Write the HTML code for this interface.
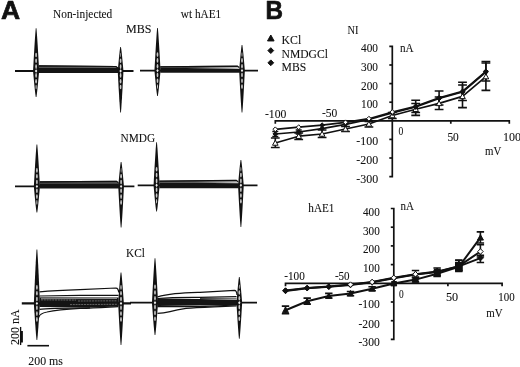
<!DOCTYPE html>
<html><head><meta charset="utf-8"><title>Figure</title>
<style>html,body{margin:0;padding:0;background:#fff}svg{display:block}</style></head>
<body><svg width="520" height="367" viewBox="0 0 520 367">
<rect width="520" height="367" fill="#fff"/>
<defs><linearGradient id="g" x1="0" x2="1" y1="0" y2="0"><stop offset="0" stop-color="#333"/><stop offset="0.45" stop-color="#555"/><stop offset="1" stop-color="#ccc"/></linearGradient>
<linearGradient id="g2" x1="0" x2="1" y1="0" y2="0"><stop offset="0" stop-color="#333"/><stop offset="1" stop-color="#666"/></linearGradient></defs>
<line x1="15" y1="71" x2="133.5" y2="71" stroke="#111" stroke-width="1.8"/>
<path d="M38.9,65.3 L116.39999999999999,66 L118.39999999999999,68 L38.9,67.8Z" fill="url(#g2)"/>
<path d="M38.9,65.8 L115.89999999999999,66.5 L117.89999999999999,68" stroke="#111" stroke-width="1.2" fill="none"/>
<path d="M38.9,67.8 L118.39999999999999,68 L118.39999999999999,72.9 L38.9,72.9Z" fill="#141414"/>
<path d="M36.45,28.30 L36.91,33.64 L37.28,38.97 L37.62,44.31 L37.95,49.65 L38.26,54.99 L38.56,60.33 L38.86,65.66 L39.15,71.00 L38.86,74.25 L38.56,77.50 L38.26,80.75 L37.95,84.00 L37.62,87.25 L37.28,90.50 L36.91,93.75 L36.45,97.00 L35.75,97.00 L35.29,93.75 L34.92,90.50 L34.58,87.25 L34.25,84.00 L33.94,80.75 L33.64,77.50 L33.34,74.25 L33.05,71.00 L33.34,65.66 L33.64,60.33 L33.94,54.99 L34.25,49.65 L34.58,44.31 L34.92,38.97 L35.29,33.64 L35.75,28.30Z" fill="#111"/>
<ellipse cx="36.1" cy="66.6" rx="0.85" ry="2.3" fill="#fff" opacity="0.78"/>
<ellipse cx="36.1" cy="60.8" rx="0.85" ry="2.3" fill="#fff" opacity="0.78"/>
<ellipse cx="36.1" cy="55.0" rx="0.85" ry="2.3" fill="#fff" opacity="0.78"/>
<ellipse cx="36.1" cy="75.4" rx="0.85" ry="2.3" fill="#fff" opacity="0.78"/>
<ellipse cx="36.1" cy="81.2" rx="0.85" ry="2.3" fill="#fff" opacity="0.78"/>
<ellipse cx="36.1" cy="87.0" rx="0.55" ry="2.3" fill="#fff" opacity="0.78"/>
<path d="M36.1,69.3 L37.300000000000004,71 L36.1,72.7 L34.9,71Z" fill="#fff" opacity="0.95"/>
<path d="M120.95,47.00 L121.38,50.00 L121.72,53.00 L122.04,56.00 L122.34,59.00 L122.63,62.00 L122.91,65.00 L123.18,68.00 L123.45,71.00 L123.18,76.19 L122.91,81.38 L122.63,86.56 L122.34,91.75 L122.04,96.94 L121.72,102.12 L121.38,107.31 L120.95,112.50 L120.25,112.50 L119.82,107.31 L119.48,102.12 L119.16,96.94 L118.86,91.75 L118.57,86.56 L118.29,81.38 L118.02,76.19 L117.75,71.00 L118.02,68.00 L118.29,65.00 L118.57,62.00 L118.86,59.00 L119.16,56.00 L119.48,53.00 L119.82,50.00 L120.25,47.00Z" fill="#111"/>
<ellipse cx="120.6" cy="66.6" rx="0.85" ry="2.3" fill="#fff" opacity="0.78"/>
<ellipse cx="120.6" cy="60.8" rx="0.85" ry="2.3" fill="#fff" opacity="0.78"/>
<ellipse cx="120.6" cy="55.0" rx="0.33" ry="2.3" fill="#fff" opacity="0.78"/>
<ellipse cx="120.6" cy="75.4" rx="0.85" ry="2.3" fill="#fff" opacity="0.78"/>
<ellipse cx="120.6" cy="81.2" rx="0.85" ry="2.3" fill="#fff" opacity="0.78"/>
<ellipse cx="120.6" cy="87.0" rx="0.85" ry="2.3" fill="#fff" opacity="0.78"/>
<path d="M120.6,69.3 L121.8,71 L120.6,72.7 L119.39999999999999,71Z" fill="#fff" opacity="0.95"/>
<line x1="140" y1="70.6" x2="258" y2="70.6" stroke="#111" stroke-width="1.8"/>
<path d="M160.3,66.3 L237.8,65.6 L239.8,69 L160.3,67.5Z" fill="url(#g)"/>
<path d="M160.3,66.8 L237.3,66.1 L239.3,67.6" stroke="#111" stroke-width="1.2" fill="none"/>
<path d="M160.3,67.5 L239.8,69 L239.8,72.8 L160.3,72.8Z" fill="#141414"/>
<path d="M157.85,28.00 L158.31,33.33 L158.68,38.65 L159.02,43.97 L159.35,49.30 L159.66,54.62 L159.96,59.95 L160.26,65.27 L160.55,70.60 L160.26,73.77 L159.96,76.95 L159.66,80.12 L159.35,83.30 L159.02,86.47 L158.68,89.65 L158.31,92.83 L157.85,96.00 L157.15,96.00 L156.69,92.83 L156.32,89.65 L155.98,86.47 L155.65,83.30 L155.34,80.12 L155.04,76.95 L154.74,73.77 L154.45,70.60 L154.74,65.27 L155.04,59.95 L155.34,54.62 L155.65,49.30 L155.98,43.97 L156.32,38.65 L156.69,33.33 L157.15,28.00Z" fill="#111"/>
<ellipse cx="157.5" cy="66.2" rx="0.85" ry="2.3" fill="#fff" opacity="0.78"/>
<ellipse cx="157.5" cy="60.4" rx="0.85" ry="2.3" fill="#fff" opacity="0.78"/>
<ellipse cx="157.5" cy="54.6" rx="0.85" ry="2.3" fill="#fff" opacity="0.78"/>
<ellipse cx="157.5" cy="75.0" rx="0.85" ry="2.3" fill="#fff" opacity="0.78"/>
<ellipse cx="157.5" cy="80.8" rx="0.85" ry="2.3" fill="#fff" opacity="0.78"/>
<ellipse cx="157.5" cy="86.6" rx="0.51" ry="2.3" fill="#fff" opacity="0.78"/>
<path d="M157.5,68.89999999999999 L158.7,70.6 L157.5,72.3 L156.3,70.6Z" fill="#fff" opacity="0.95"/>
<path d="M242.35,45.00 L242.78,48.20 L243.12,51.40 L243.44,54.60 L243.74,57.80 L244.03,61.00 L244.31,64.20 L244.58,67.40 L244.85,70.60 L244.58,75.84 L244.31,81.07 L244.03,86.31 L243.74,91.55 L243.44,96.79 L243.12,102.03 L242.78,107.26 L242.35,112.50 L241.65,112.50 L241.22,107.26 L240.88,102.03 L240.56,96.79 L240.26,91.55 L239.97,86.31 L239.69,81.07 L239.42,75.84 L239.15,70.60 L239.42,67.40 L239.69,64.20 L239.97,61.00 L240.26,57.80 L240.56,54.60 L240.88,51.40 L241.22,48.20 L241.65,45.00Z" fill="#111"/>
<ellipse cx="242" cy="66.2" rx="0.85" ry="2.3" fill="#fff" opacity="0.78"/>
<ellipse cx="242" cy="60.4" rx="0.85" ry="2.3" fill="#fff" opacity="0.78"/>
<ellipse cx="242" cy="54.6" rx="0.44" ry="2.3" fill="#fff" opacity="0.78"/>
<ellipse cx="242" cy="75.0" rx="0.85" ry="2.3" fill="#fff" opacity="0.78"/>
<ellipse cx="242" cy="80.8" rx="0.85" ry="2.3" fill="#fff" opacity="0.78"/>
<ellipse cx="242" cy="86.6" rx="0.85" ry="2.3" fill="#fff" opacity="0.78"/>
<path d="M242,68.89999999999999 L243.2,70.6 L242,72.3 L240.8,70.6Z" fill="#fff" opacity="0.95"/>
<line x1="15" y1="186.4" x2="134.4" y2="186.4" stroke="#111" stroke-width="1.8"/>
<path d="M39.699999999999996,181.3 L116.89999999999999,180.8 L118.89999999999999,183.3 L39.699999999999996,183.3Z" fill="url(#g2)"/>
<path d="M39.699999999999996,181.8 L116.39999999999999,181.3 L118.39999999999999,182.8" stroke="#111" stroke-width="1.2" fill="none"/>
<path d="M39.699999999999996,183.3 L118.89999999999999,183.3 L118.89999999999999,188.4 L39.699999999999996,188.4Z" fill="#141414"/>
<path d="M37.25,144.50 L37.71,149.74 L38.08,154.97 L38.42,160.21 L38.75,165.45 L39.06,170.69 L39.36,175.93 L39.66,181.16 L39.95,186.40 L39.66,189.66 L39.36,192.93 L39.06,196.19 L38.75,199.45 L38.42,202.71 L38.08,205.97 L37.71,209.24 L37.25,212.50 L36.55,212.50 L36.09,209.24 L35.72,205.97 L35.38,202.71 L35.05,199.45 L34.74,196.19 L34.44,192.93 L34.14,189.66 L33.85,186.40 L34.14,181.16 L34.44,175.93 L34.74,170.69 L35.05,165.45 L35.38,160.21 L35.72,154.97 L36.09,149.74 L36.55,144.50Z" fill="#111"/>
<ellipse cx="36.9" cy="182.0" rx="0.85" ry="2.3" fill="#fff" opacity="0.78"/>
<ellipse cx="36.9" cy="176.2" rx="0.85" ry="2.3" fill="#fff" opacity="0.78"/>
<ellipse cx="36.9" cy="170.4" rx="0.85" ry="2.3" fill="#fff" opacity="0.78"/>
<ellipse cx="36.9" cy="190.8" rx="0.85" ry="2.3" fill="#fff" opacity="0.78"/>
<ellipse cx="36.9" cy="196.6" rx="0.85" ry="2.3" fill="#fff" opacity="0.78"/>
<ellipse cx="36.9" cy="202.4" rx="0.55" ry="2.3" fill="#fff" opacity="0.78"/>
<path d="M36.9,184.70000000000002 L38.1,186.4 L36.9,188.1 L35.699999999999996,186.4Z" fill="#fff" opacity="0.95"/>
<path d="M121.45,162.00 L121.88,165.05 L122.22,168.10 L122.54,171.15 L122.84,174.20 L123.13,177.25 L123.41,180.30 L123.68,183.35 L123.95,186.40 L123.68,191.54 L123.41,196.68 L123.13,201.81 L122.84,206.95 L122.54,212.09 L122.22,217.22 L121.88,222.36 L121.45,227.50 L120.75,227.50 L120.32,222.36 L119.98,217.22 L119.66,212.09 L119.36,206.95 L119.07,201.81 L118.79,196.68 L118.52,191.54 L118.25,186.40 L118.52,183.35 L118.79,180.30 L119.07,177.25 L119.36,174.20 L119.66,171.15 L119.98,168.10 L120.32,165.05 L120.75,162.00Z" fill="#111"/>
<ellipse cx="121.1" cy="182.0" rx="0.85" ry="2.3" fill="#fff" opacity="0.78"/>
<ellipse cx="121.1" cy="176.2" rx="0.85" ry="2.3" fill="#fff" opacity="0.78"/>
<ellipse cx="121.1" cy="170.4" rx="0.36" ry="2.3" fill="#fff" opacity="0.78"/>
<ellipse cx="121.1" cy="190.8" rx="0.85" ry="2.3" fill="#fff" opacity="0.78"/>
<ellipse cx="121.1" cy="196.6" rx="0.85" ry="2.3" fill="#fff" opacity="0.78"/>
<ellipse cx="121.1" cy="202.4" rx="0.85" ry="2.3" fill="#fff" opacity="0.78"/>
<path d="M121.1,184.70000000000002 L122.3,186.4 L121.1,188.1 L119.89999999999999,186.4Z" fill="#fff" opacity="0.95"/>
<line x1="137.7" y1="185.3" x2="257.5" y2="185.3" stroke="#111" stroke-width="1.8"/>
<path d="M159.4,180.7 L236.70000000000002,179.8 L238.70000000000002,183.2 L159.4,182.5Z" fill="url(#g)"/>
<path d="M159.4,181.2 L236.20000000000002,180.3 L238.20000000000002,181.8" stroke="#111" stroke-width="1.2" fill="none"/>
<path d="M159.4,182.5 L238.70000000000002,183.2 L238.70000000000002,188.2 L159.4,188.2Z" fill="#141414"/>
<path d="M156.95,142.30 L157.41,147.68 L157.78,153.05 L158.12,158.43 L158.45,163.80 L158.76,169.18 L159.06,174.55 L159.36,179.93 L159.65,185.30 L159.36,188.58 L159.06,191.85 L158.76,195.12 L158.45,198.40 L158.12,201.68 L157.78,204.95 L157.41,208.22 L156.95,211.50 L156.25,211.50 L155.79,208.22 L155.42,204.95 L155.08,201.68 L154.75,198.40 L154.44,195.12 L154.14,191.85 L153.84,188.58 L153.55,185.30 L153.84,179.93 L154.14,174.55 L154.44,169.18 L154.75,163.80 L155.08,158.43 L155.42,153.05 L155.79,147.68 L156.25,142.30Z" fill="#111"/>
<ellipse cx="156.6" cy="180.9" rx="0.85" ry="2.3" fill="#fff" opacity="0.78"/>
<ellipse cx="156.6" cy="175.1" rx="0.85" ry="2.3" fill="#fff" opacity="0.78"/>
<ellipse cx="156.6" cy="169.3" rx="0.85" ry="2.3" fill="#fff" opacity="0.78"/>
<ellipse cx="156.6" cy="189.7" rx="0.85" ry="2.3" fill="#fff" opacity="0.78"/>
<ellipse cx="156.6" cy="195.5" rx="0.85" ry="2.3" fill="#fff" opacity="0.78"/>
<ellipse cx="156.6" cy="201.3" rx="0.56" ry="2.3" fill="#fff" opacity="0.78"/>
<path d="M156.6,183.60000000000002 L157.79999999999998,185.3 L156.6,187.0 L155.4,185.3Z" fill="#fff" opacity="0.95"/>
<path d="M241.25,160.00 L241.68,163.16 L242.02,166.32 L242.34,169.49 L242.64,172.65 L242.93,175.81 L243.21,178.98 L243.48,182.14 L243.75,185.30 L243.48,190.51 L243.21,195.73 L242.93,200.94 L242.64,206.15 L242.34,211.36 L242.02,216.57 L241.68,221.79 L241.25,227.00 L240.55,227.00 L240.12,221.79 L239.78,216.57 L239.46,211.36 L239.16,206.15 L238.87,200.94 L238.59,195.73 L238.32,190.51 L238.05,185.30 L238.32,182.14 L238.59,178.98 L238.87,175.81 L239.16,172.65 L239.46,169.49 L239.78,166.32 L240.12,163.16 L240.55,160.00Z" fill="#111"/>
<ellipse cx="240.9" cy="180.9" rx="0.85" ry="2.3" fill="#fff" opacity="0.78"/>
<ellipse cx="240.9" cy="175.1" rx="0.85" ry="2.3" fill="#fff" opacity="0.78"/>
<ellipse cx="240.9" cy="169.3" rx="0.42" ry="2.3" fill="#fff" opacity="0.78"/>
<ellipse cx="240.9" cy="189.7" rx="0.85" ry="2.3" fill="#fff" opacity="0.78"/>
<ellipse cx="240.9" cy="195.5" rx="0.85" ry="2.3" fill="#fff" opacity="0.78"/>
<ellipse cx="240.9" cy="201.3" rx="0.85" ry="2.3" fill="#fff" opacity="0.78"/>
<path d="M240.9,183.60000000000002 L242.1,185.3 L240.9,187.0 L239.70000000000002,185.3Z" fill="#fff" opacity="0.95"/>
<line x1="21.8" y1="303.4" x2="131" y2="303.4" stroke="#111" stroke-width="2.3"/>
<path d="M39.7,297.2 L118.5,297.6 L118.5,306.6 L90,307.6 L39.7,307 Z" fill="#141414"/>
<path d="M41,298.7 L117,298.5" stroke="#aaa" stroke-width="0.8" fill="none"/>
<path d="M41,299.9 L76,300.1 M78,301 L117,300.8 M70,304.6 L117,304.3" stroke="#999" stroke-width="0.6" stroke-dasharray="2 0.8" fill="none"/>
<path d="M40,296.75 L118,296.5" stroke="#fff" stroke-width="0.5" fill="none" opacity="0.8"/>
<g fill="none" stroke="#111" stroke-width="1.25">
<path d="M39.5,291.8 C55,290.6 70,290 80,289.6 C95,289 108,288.3 116,288 Q118.3,288 118.8,292.5"/>
<path d="M39.5,296 L80,295.3 L118.5,295.3"/>
<path d="M39.5,309.3 C45,308.4 60,308 90,307.8"/>
<path d="M38.6,317.5 C39.5,314 43,312.8 47,312 C55,310.2 65,309.2 80,308.4 C95,308 105,307.3 118,306.6"/>
</g>
<path d="M37.25,249.50 L37.71,256.24 L38.08,262.98 L38.42,269.71 L38.75,276.45 L39.06,283.19 L39.36,289.92 L39.66,296.66 L39.95,303.40 L39.66,307.97 L39.36,312.55 L39.06,317.12 L38.75,321.70 L38.42,326.27 L38.08,330.85 L37.71,335.43 L37.25,340.00 L36.55,340.00 L36.09,335.43 L35.72,330.85 L35.38,326.27 L35.05,321.70 L34.74,317.12 L34.44,312.55 L34.14,307.97 L33.85,303.40 L34.14,296.66 L34.44,289.92 L34.74,283.19 L35.05,276.45 L35.38,269.71 L35.72,262.98 L36.09,256.24 L36.55,249.50Z" fill="#111"/>
<ellipse cx="36.9" cy="299.0" rx="0.85" ry="2.3" fill="#fff" opacity="0.78"/>
<ellipse cx="36.9" cy="293.2" rx="0.85" ry="2.3" fill="#fff" opacity="0.78"/>
<ellipse cx="36.9" cy="287.4" rx="0.85" ry="2.3" fill="#fff" opacity="0.78"/>
<ellipse cx="36.9" cy="307.8" rx="0.85" ry="2.3" fill="#fff" opacity="0.78"/>
<ellipse cx="36.9" cy="313.6" rx="0.85" ry="2.3" fill="#fff" opacity="0.78"/>
<ellipse cx="36.9" cy="319.4" rx="0.85" ry="2.3" fill="#fff" opacity="0.78"/>
<path d="M36.9,301.7 L38.1,303.4 L36.9,305.09999999999997 L35.699999999999996,303.4Z" fill="#fff" opacity="0.95"/>
<path d="M121.35,272.50 L121.78,276.36 L122.12,280.23 L122.44,284.09 L122.74,287.95 L123.03,291.81 L123.31,295.67 L123.58,299.54 L123.85,303.40 L123.58,308.60 L123.31,313.80 L123.03,319.00 L122.74,324.20 L122.44,329.40 L122.12,334.60 L121.78,339.80 L121.35,345.00 L120.65,345.00 L120.22,339.80 L119.88,334.60 L119.56,329.40 L119.26,324.20 L118.97,319.00 L118.69,313.80 L118.42,308.60 L118.15,303.40 L118.42,299.54 L118.69,295.67 L118.97,291.81 L119.26,287.95 L119.56,284.09 L119.88,280.23 L120.22,276.36 L120.65,272.50Z" fill="#111"/>
<ellipse cx="121" cy="299.0" rx="0.85" ry="2.3" fill="#fff" opacity="0.78"/>
<ellipse cx="121" cy="293.2" rx="0.85" ry="2.3" fill="#fff" opacity="0.78"/>
<ellipse cx="121" cy="287.4" rx="0.69" ry="2.3" fill="#fff" opacity="0.78"/>
<ellipse cx="121" cy="307.8" rx="0.85" ry="2.3" fill="#fff" opacity="0.78"/>
<ellipse cx="121" cy="313.6" rx="0.85" ry="2.3" fill="#fff" opacity="0.78"/>
<ellipse cx="121" cy="319.4" rx="0.85" ry="2.3" fill="#fff" opacity="0.78"/>
<path d="M121,301.7 L122.2,303.4 L121,305.09999999999997 L119.8,303.4Z" fill="#fff" opacity="0.95"/>
<line x1="130" y1="302.7" x2="257" y2="302.7" stroke="#111" stroke-width="1.7"/>
<path d="M157.6,298.4 L200,299 L237,300 L237,305.2 L200,305.6 L157.6,305.9Z" fill="#141414"/>
<g fill="none" stroke="#111" stroke-width="1.2">
<path d="M157.5,296.8 C163,295.5 170,294.4 175,293.7 C185,292.8 195,292.5 200,292.3 C215,291.5 228,290.8 234.5,290.4 Q236.6,290.4 237,295"/>
<path d="M157.5,298.5 C170,297.4 185,297.3 200,297.4 L236.5,296.6"/>
<path d="M200,298.6 L236.5,298.9" stroke-width="0.9"/>
<path d="M157.5,306.6 L200,306.6 L236.5,305"/>
<path d="M157.5,313.3 C162,313.3 166,312.6 170,311.6 C176,310 182,309 186,308.4 C195,307.4 210,307 220,306.6 L236.5,306"/>
</g>
<path d="M155.35,258.30 L155.81,263.85 L156.18,269.40 L156.52,274.95 L156.85,280.50 L157.16,286.05 L157.46,291.60 L157.76,297.15 L158.05,302.70 L157.76,306.74 L157.46,310.77 L157.16,314.81 L156.85,318.85 L156.52,322.89 L156.18,326.93 L155.81,330.96 L155.35,335.00 L154.65,335.00 L154.19,330.96 L153.82,326.93 L153.48,322.89 L153.15,318.85 L152.84,314.81 L152.54,310.77 L152.24,306.74 L151.95,302.70 L152.24,297.15 L152.54,291.60 L152.84,286.05 L153.15,280.50 L153.48,274.95 L153.82,269.40 L154.19,263.85 L154.65,258.30Z" fill="#111"/>
<ellipse cx="155" cy="298.3" rx="0.85" ry="2.3" fill="#fff" opacity="0.78"/>
<ellipse cx="155" cy="292.5" rx="0.85" ry="2.3" fill="#fff" opacity="0.78"/>
<ellipse cx="155" cy="286.7" rx="0.85" ry="2.3" fill="#fff" opacity="0.78"/>
<ellipse cx="155" cy="307.1" rx="0.85" ry="2.3" fill="#fff" opacity="0.78"/>
<ellipse cx="155" cy="312.9" rx="0.85" ry="2.3" fill="#fff" opacity="0.78"/>
<ellipse cx="155" cy="318.7" rx="0.85" ry="2.3" fill="#fff" opacity="0.78"/>
<path d="M155,301.0 L156.2,302.7 L155,304.4 L153.8,302.7Z" fill="#fff" opacity="0.95"/>
<path d="M239.65,277.00 L240.08,280.21 L240.42,283.43 L240.74,286.64 L241.04,289.85 L241.33,293.06 L241.61,296.27 L241.88,299.49 L242.15,302.70 L241.88,307.21 L241.61,311.73 L241.33,316.24 L241.04,320.75 L240.74,325.26 L240.42,329.77 L240.08,334.29 L239.65,338.80 L238.95,338.80 L238.52,334.29 L238.18,329.77 L237.86,325.26 L237.56,320.75 L237.27,316.24 L236.99,311.73 L236.72,307.21 L236.45,302.70 L236.72,299.49 L236.99,296.27 L237.27,293.06 L237.56,289.85 L237.86,286.64 L238.18,283.43 L238.52,280.21 L238.95,277.00Z" fill="#111"/>
<ellipse cx="239.3" cy="298.3" rx="0.85" ry="2.3" fill="#fff" opacity="0.78"/>
<ellipse cx="239.3" cy="292.5" rx="0.85" ry="2.3" fill="#fff" opacity="0.78"/>
<ellipse cx="239.3" cy="286.7" rx="0.44" ry="2.3" fill="#fff" opacity="0.78"/>
<ellipse cx="239.3" cy="307.1" rx="0.85" ry="2.3" fill="#fff" opacity="0.78"/>
<ellipse cx="239.3" cy="312.9" rx="0.85" ry="2.3" fill="#fff" opacity="0.78"/>
<ellipse cx="239.3" cy="318.7" rx="0.85" ry="2.3" fill="#fff" opacity="0.78"/>
<path d="M239.3,301.0 L240.5,302.7 L239.3,304.4 L238.10000000000002,302.7Z" fill="#fff" opacity="0.95"/>
<rect x="21" y="331" width="1.9" height="11.5" fill="#111"/>
<rect x="27.4" y="344.9" width="21.6" height="1.6" fill="#111"/>
<g font-family="Liberation Serif, serif" fill="#111" stroke="#111" stroke-width="0.08">
<text transform="translate(28.30,365) scale(0.991,1)" font-size="12" >200 ms</text>
<text transform="translate(19,345) rotate(-90)" font-size="12"><tspan text-decoration="underline">200</tspan> nA</text>
<text transform="translate(53.00,18.2) scale(0.989,1)" font-size="11.5" >Non-injected</text>
<text transform="translate(126.00,32.6) scale(1.049,1)" font-size="11.5" >MBS</text>
<text transform="translate(180.80,18.4) scale(0.981,1)" font-size="11.5" >wt hAE1</text>
<text transform="translate(120.60,142.3) scale(0.960,1)" font-size="11.8" >NMDG</text>
<text transform="translate(126.10,256.8) scale(0.962,1)" font-size="11.8" >KCl</text>
<text transform="translate(281.50,43.5) scale(0.985,1)" font-size="12" >KCl</text>
<text transform="translate(281.50,58) scale(0.969,1)" font-size="12" >NMDGCl</text>
<text transform="translate(281.50,70.8) scale(0.974,1)" font-size="12" >MBS</text>
<text transform="translate(347.40,34.4) scale(0.905,1)" font-size="11.5" >NI</text>
<text transform="translate(308.30,211.6) scale(0.976,1)" font-size="11.5" >hAE1</text>
</g>
<g font-family="Liberation Sans, sans-serif" font-weight="bold" font-size="25.5" fill="#111" stroke="#111" stroke-width="0.7" stroke-linejoin="round">
<text transform="translate(0.9,18.7) scale(1.04,1)">A</text><text transform="translate(265.4,18.7) scale(0.95,1)">B</text></g>
<path d="M270.8,35.0 L274.1,40.94 L267.5,40.94Z" fill="#111" stroke="#111" stroke-width="1"/>
<path d="M270.8,47.7 L273.7,50.6 L270.8,53.5 L267.90000000000003,50.6Z" fill="#111" stroke="#111" stroke-width="1"/>
<path d="M270.8,59.9 L273.7,62.8 L270.8,65.7 L267.90000000000003,62.8Z" fill="#111" stroke="#111" stroke-width="1"/>
<g stroke="#111" stroke-width="1.7" fill="none">
<path d="M275.3,123.8 V120.8 H509.3 V123.8 M450.8,120.8 v3"/>
<path d="M389.3,46.4 H392.3 V176.6 H389.3"/>
<path d="M389.3,65.0 H392.3"/>
<path d="M389.3,83.6 H392.3"/>
<path d="M389.3,102.2 H392.3"/>
<path d="M389.3,139.4 H392.3"/>
<path d="M389.3,158.0 H392.3"/>
</g>
<path d="M275.3,143.0 L298.7,136.2 L322.1,134.0 L345.5,129.0 L368.9,124.0 L392.3,115.5 L415.7,109.3 L439.1,103.4 L462.5,96.4 L485.9,76.6" fill="none" stroke="#111" stroke-width="1.7" stroke-linejoin="round"/>
<path d="M275.3,134.0 L298.7,132.0 L322.1,128.6 L345.5,124.3 L368.9,119.5 L392.3,113.0 L415.7,107.0 L439.1,98.5 L462.5,92.0 L485.9,72.0" fill="none" stroke="#111" stroke-width="1.7" stroke-linejoin="round"/>
<path d="M275.3,129.3 L298.7,127.2 L322.1,125.2 L345.5,122.3 L368.9,118.7 L392.3,112.0 L415.7,106.3 L439.1,97.8 L462.5,91.4 L485.9,71.3" fill="none" stroke="#111" stroke-width="1.7" stroke-linejoin="round"/>
<path d="M275.3,138 V147.5 M270.9,138 h8.8 M270.9,147.5 h8.8" stroke="#111" stroke-width="1.6" fill="none"/>
<path d="M298.7,133 V139.5 M294.3,133 h8.8 M294.3,139.5 h8.8" stroke="#111" stroke-width="1.6" fill="none"/>
<path d="M322.1,130 V137.5 M317.7,130 h8.8 M317.7,137.5 h8.8" stroke="#111" stroke-width="1.6" fill="none"/>
<path d="M345.5,126.5 V131.5 M341.1,126.5 h8.8 M341.1,131.5 h8.8" stroke="#111" stroke-width="1.6" fill="none"/>
<path d="M368.9,121.5 V127 M364.5,121.5 h8.8 M364.5,127 h8.8" stroke="#111" stroke-width="1.6" fill="none"/>
<path d="M392.3,112.5 V118.5 M387.9,112.5 h8.8 M387.9,118.5 h8.8" stroke="#111" stroke-width="1.6" fill="none"/>
<path d="M415.7,103.5 V115.4 M411.3,103.5 h8.8 M411.3,115.4 h8.8" stroke="#111" stroke-width="1.6" fill="none"/>
<path d="M439.1,97 V109.5 M434.7,97 h8.8 M434.7,109.5 h8.8" stroke="#111" stroke-width="1.6" fill="none"/>
<path d="M462.5,85 V107.6 M458.1,85 h8.8 M458.1,107.6 h8.8" stroke="#111" stroke-width="1.6" fill="none"/>
<path d="M485.9,63 V90.4 M481.5,63 h8.8 M481.5,90.4 h8.8" stroke="#111" stroke-width="1.6" fill="none"/>
<path d="M275.3,131.5 V136.5 M272.3,131.5 h6 M272.3,136.5 h6" stroke="#111" stroke-width="1.6" fill="none"/>
<path d="M298.7,130 V134 M295.7,130 h6 M295.7,134 h6" stroke="#111" stroke-width="1.6" fill="none"/>
<path d="M415.7,100.3 V112.5 M411.3,100.3 h8.8 M411.3,112.5 h8.8" stroke="#111" stroke-width="1.6" fill="none"/>
<path d="M439.1,91 V105 M434.7,91 h8.8 M434.7,105 h8.8" stroke="#111" stroke-width="1.6" fill="none"/>
<path d="M462.5,82.3 V100.5 M458.1,82.3 h8.8 M458.1,100.5 h8.8" stroke="#111" stroke-width="1.6" fill="none"/>
<path d="M485.9,61.5 V81 M481.5,61.5 h8.8 M481.5,81 h8.8" stroke="#111" stroke-width="1.6" fill="none"/>
<path d="M275.3,140.2 L278.1,145.24 L272.5,145.24Z" fill="#fff" stroke="#111" stroke-width="1"/>
<path d="M298.70000000000005,133.39999999999998 L301.50000000000006,138.44 L295.90000000000003,138.44Z" fill="#fff" stroke="#111" stroke-width="1"/>
<path d="M322.1,131.2 L324.90000000000003,136.24 L319.3,136.24Z" fill="#fff" stroke="#111" stroke-width="1"/>
<path d="M345.5,126.2 L348.3,131.24 L342.7,131.24Z" fill="#fff" stroke="#111" stroke-width="1"/>
<path d="M368.90000000000003,121.2 L371.70000000000005,126.24 L366.1,126.24Z" fill="#fff" stroke="#111" stroke-width="1"/>
<path d="M392.3,112.7 L395.1,117.74 L389.5,117.74Z" fill="#fff" stroke="#111" stroke-width="1"/>
<path d="M415.7,106.5 L418.5,111.53999999999999 L412.9,111.53999999999999Z" fill="#fff" stroke="#111" stroke-width="1"/>
<path d="M439.1,100.60000000000001 L441.90000000000003,105.64 L436.3,105.64Z" fill="#fff" stroke="#111" stroke-width="1"/>
<path d="M462.5,93.60000000000001 L465.3,98.64 L459.7,98.64Z" fill="#fff" stroke="#111" stroke-width="1"/>
<path d="M485.9,73.8 L488.7,78.83999999999999 L483.09999999999997,78.83999999999999Z" fill="#fff" stroke="#111" stroke-width="1"/>
<path d="M275.3,131.6 L277.7,134 L275.3,136.4 L272.90000000000003,134Z" fill="#111" stroke="#111" stroke-width="1"/>
<path d="M298.70000000000005,129.6 L301.1,132 L298.70000000000005,134.4 L296.30000000000007,132Z" fill="#111" stroke="#111" stroke-width="1"/>
<path d="M322.1,126.19999999999999 L324.5,128.6 L322.1,131.0 L319.70000000000005,128.6Z" fill="#111" stroke="#111" stroke-width="1"/>
<path d="M345.5,121.89999999999999 L347.9,124.3 L345.5,126.7 L343.1,124.3Z" fill="#111" stroke="#111" stroke-width="1"/>
<path d="M368.90000000000003,117.1 L371.3,119.5 L368.90000000000003,121.9 L366.50000000000006,119.5Z" fill="#111" stroke="#111" stroke-width="1"/>
<path d="M392.3,110.6 L394.7,113 L392.3,115.4 L389.90000000000003,113Z" fill="#111" stroke="#111" stroke-width="1"/>
<path d="M415.7,104.6 L418.09999999999997,107 L415.7,109.4 L413.3,107Z" fill="#111" stroke="#111" stroke-width="1"/>
<path d="M439.1,96.1 L441.5,98.5 L439.1,100.9 L436.70000000000005,98.5Z" fill="#111" stroke="#111" stroke-width="1"/>
<path d="M462.5,89.6 L464.9,92 L462.5,94.4 L460.1,92Z" fill="#111" stroke="#111" stroke-width="1"/>
<path d="M485.9,69.6 L488.29999999999995,72 L485.9,74.4 L483.5,72Z" fill="#111" stroke="#111" stroke-width="1"/>
<path d="M275.3,126.9 L277.7,129.3 L275.3,131.70000000000002 L272.90000000000003,129.3Z" fill="#fff" stroke="#111" stroke-width="1"/>
<path d="M298.70000000000005,124.8 L301.1,127.2 L298.70000000000005,129.6 L296.30000000000007,127.2Z" fill="#fff" stroke="#111" stroke-width="1"/>
<path d="M322.1,122.8 L324.5,125.2 L322.1,127.60000000000001 L319.70000000000005,125.2Z" fill="#111" stroke="#111" stroke-width="1"/>
<path d="M345.5,119.89999999999999 L347.9,122.3 L345.5,124.7 L343.1,122.3Z" fill="#fff" stroke="#111" stroke-width="1"/>
<path d="M368.90000000000003,116.3 L371.3,118.7 L368.90000000000003,121.10000000000001 L366.50000000000006,118.7Z" fill="#fff" stroke="#111" stroke-width="1"/>
<path d="M392.3,109.6 L394.7,112 L392.3,114.4 L389.90000000000003,112Z" fill="#fff" stroke="#111" stroke-width="1"/>
<path d="M415.7,103.89999999999999 L418.09999999999997,106.3 L415.7,108.7 L413.3,106.3Z" fill="#111" stroke="#111" stroke-width="1"/>
<path d="M439.1,95.39999999999999 L441.5,97.8 L439.1,100.2 L436.70000000000005,97.8Z" fill="#111" stroke="#111" stroke-width="1"/>
<path d="M462.5,89.0 L464.9,91.4 L462.5,93.80000000000001 L460.1,91.4Z" fill="#111" stroke="#111" stroke-width="1"/>
<path d="M485.9,68.89999999999999 L488.29999999999995,71.3 L485.9,73.7 L483.5,71.3Z" fill="#111" stroke="#111" stroke-width="1"/>
<g stroke="#111" stroke-width="1.7" fill="none">
<path d="M285.5,286.3 V283.3 H502.1 V286.3 M447.9,283.3 v3"/>
<path d="M390.8,208.5 H393.8 V339.4 H390.8"/>
<path d="M390.8,227.2 H393.8"/>
<path d="M390.8,245.9 H393.8"/>
<path d="M390.8,264.6 H393.8"/>
<path d="M390.8,302.0 H393.8"/>
<path d="M390.8,320.7 H393.8"/>
</g>
<path d="M285.5,310.2 L307.2,301.3 L328.8,296.0 L350.5,293.5 L372.1,288.7 L393.8,283.5 L415.5,279.6 L437.1,273.7 L458.8,266.8 L480.4,237.7" fill="none" stroke="#111" stroke-width="2" stroke-linejoin="round"/>
<path d="M285.5,290.9 L307.2,288.2 L328.8,286.8 L350.5,285.0 L372.1,282.3 L393.8,278.2 L415.5,274.5 L437.1,271.9 L458.8,266.4 L480.4,258.1" fill="none" stroke="#111" stroke-width="2" stroke-linejoin="round"/>
<path d="M285.5,290.5 L307.2,287.9 L328.8,286.5 L350.5,284.6 L372.1,282.0 L393.8,277.8 L415.5,274.2 L437.1,271.6 L458.8,266.2 L480.4,251.5" fill="none" stroke="#111" stroke-width="2" stroke-linejoin="round"/>
<path d="M285.5,306.1 V313.7 M281.8,306.1 h7.4 M281.8,313.7 h7.4" stroke="#111" stroke-width="1.6" fill="none"/>
<path d="M307.2,298.1 V304.3 M303.5,298.1 h7.4 M303.5,304.3 h7.4" stroke="#111" stroke-width="1.6" fill="none"/>
<path d="M328.8,293.4 V298 M325.1,293.4 h7.4 M325.1,298 h7.4" stroke="#111" stroke-width="1.6" fill="none"/>
<path d="M350.5,291.5 V295.8 M346.8,291.5 h7.4 M346.8,295.8 h7.4" stroke="#111" stroke-width="1.6" fill="none"/>
<path d="M372.1,286.8 V290.8 M368.4,286.8 h7.4 M368.4,290.8 h7.4" stroke="#111" stroke-width="1.6" fill="none"/>
<path d="M415.5,277 V282 M411.8,277 h7.4 M411.8,282 h7.4" stroke="#111" stroke-width="1.6" fill="none"/>
<path d="M437.1,270.5 V276.5 M433.4,270.5 h7.4 M433.4,276.5 h7.4" stroke="#111" stroke-width="1.6" fill="none"/>
<path d="M458.8,260 V271.4 M455.1,260 h7.4 M455.1,271.4 h7.4" stroke="#111" stroke-width="1.6" fill="none"/>
<path d="M480.4,231.9 V243 M476.7,231.9 h7.4 M476.7,243 h7.4" stroke="#111" stroke-width="1.6" fill="none"/>
<path d="M480.4,255.4 V262.5 M476.7,255.4 h7.4 M476.7,262.5 h7.4" stroke="#111" stroke-width="1.6" fill="none"/>
<path d="M415.5,270.5 V278 M411.8,270.5 h7.4 M411.8,278 h7.4" stroke="#111" stroke-width="1.6" fill="none"/>
<path d="M437.1,268 V275.5 M433.4,268 h7.4 M433.4,275.5 h7.4" stroke="#111" stroke-width="1.6" fill="none"/>
<path d="M458.8,260.5 V271 M455.1,260.5 h7.4 M455.1,271 h7.4" stroke="#111" stroke-width="1.6" fill="none"/>
<path d="M480.4,244.8 V257 M476.7,244.8 h7.4 M476.7,257 h7.4" stroke="#111" stroke-width="1.6" fill="none"/>
<path d="M285.5,307.2 L288.5,312.59999999999997 L282.5,312.59999999999997Z" fill="#111" stroke="#111" stroke-width="1"/>
<path d="M307.16,298.3 L310.16,303.7 L304.16,303.7Z" fill="#111" stroke="#111" stroke-width="1"/>
<path d="M328.82,293.0 L331.82,298.4 L325.82,298.4Z" fill="#111" stroke="#111" stroke-width="1"/>
<path d="M350.48,290.5 L353.48,295.9 L347.48,295.9Z" fill="#111" stroke="#111" stroke-width="1"/>
<path d="M372.14,285.7 L375.14,291.09999999999997 L369.14,291.09999999999997Z" fill="#111" stroke="#111" stroke-width="1"/>
<path d="M393.8,280.5 L396.8,285.9 L390.8,285.9Z" fill="#111" stroke="#111" stroke-width="1"/>
<path d="M415.46000000000004,276.6 L418.46000000000004,282.0 L412.46000000000004,282.0Z" fill="#111" stroke="#111" stroke-width="1"/>
<path d="M437.12,270.7 L440.12,276.09999999999997 L434.12,276.09999999999997Z" fill="#111" stroke="#111" stroke-width="1"/>
<path d="M458.78000000000003,263.8 L461.78000000000003,269.2 L455.78000000000003,269.2Z" fill="#111" stroke="#111" stroke-width="1"/>
<path d="M480.44,234.7 L483.44,240.1 L477.44,240.1Z" fill="#111" stroke="#111" stroke-width="1"/>
<path d="M285.5,288.15 L288.25,290.9 L285.5,293.65 L282.75,290.9Z" fill="#111" stroke="#111" stroke-width="1"/>
<path d="M307.16,285.45 L309.91,288.2 L307.16,290.95 L304.41,288.2Z" fill="#111" stroke="#111" stroke-width="1"/>
<path d="M328.82,284.05 L331.57,286.8 L328.82,289.55 L326.07,286.8Z" fill="#111" stroke="#111" stroke-width="1"/>
<path d="M350.48,282.25 L353.23,285 L350.48,287.75 L347.73,285Z" fill="#111" stroke="#111" stroke-width="1"/>
<path d="M372.14,279.55 L374.89,282.3 L372.14,285.05 L369.39,282.3Z" fill="#111" stroke="#111" stroke-width="1"/>
<path d="M393.8,275.45 L396.55,278.2 L393.8,280.95 L391.05,278.2Z" fill="#111" stroke="#111" stroke-width="1"/>
<path d="M415.46000000000004,271.75 L418.21000000000004,274.5 L415.46000000000004,277.25 L412.71000000000004,274.5Z" fill="#111" stroke="#111" stroke-width="1"/>
<path d="M437.12,269.15 L439.87,271.9 L437.12,274.65 L434.37,271.9Z" fill="#111" stroke="#111" stroke-width="1"/>
<path d="M458.78000000000003,263.65 L461.53000000000003,266.4 L458.78000000000003,269.15 L456.03000000000003,266.4Z" fill="#111" stroke="#111" stroke-width="1"/>
<path d="M480.44,255.35000000000002 L483.19,258.1 L480.44,260.85 L477.69,258.1Z" fill="#111" stroke="#111" stroke-width="1"/>
<path d="M285.5,287.75 L288.25,290.5 L285.5,293.25 L282.75,290.5Z" fill="#111" stroke="#111" stroke-width="1"/>
<path d="M307.16,285.15 L309.91,287.9 L307.16,290.65 L304.41,287.9Z" fill="#111" stroke="#111" stroke-width="1"/>
<path d="M328.82,283.75 L331.57,286.5 L328.82,289.25 L326.07,286.5Z" fill="#111" stroke="#111" stroke-width="1"/>
<path d="M350.48,281.85 L353.23,284.6 L350.48,287.35 L347.73,284.6Z" fill="#fff" stroke="#111" stroke-width="1"/>
<path d="M372.14,279.25 L374.89,282 L372.14,284.75 L369.39,282Z" fill="#fff" stroke="#111" stroke-width="1"/>
<path d="M393.8,275.05 L396.55,277.8 L393.8,280.55 L391.05,277.8Z" fill="#fff" stroke="#111" stroke-width="1"/>
<path d="M415.46000000000004,271.45 L418.21000000000004,274.2 L415.46000000000004,276.95 L412.71000000000004,274.2Z" fill="#fff" stroke="#111" stroke-width="1"/>
<path d="M437.12,268.85 L439.87,271.6 L437.12,274.35 L434.37,271.6Z" fill="#111" stroke="#111" stroke-width="1"/>
<path d="M458.78000000000003,263.45 L461.53000000000003,266.2 L458.78000000000003,268.95 L456.03000000000003,266.2Z" fill="#111" stroke="#111" stroke-width="1"/>
<path d="M480.44,248.75 L483.19,251.5 L480.44,254.25 L477.69,251.5Z" fill="#fff" stroke="#111" stroke-width="1"/>
<rect x="455" y="262" width="7.8" height="9" fill="#111"/><rect x="434" y="268.8" width="6.8" height="7" fill="#111"/><rect x="412.8" y="277" width="5.8" height="5.4" fill="#111"/><rect x="391.2" y="281" width="5.6" height="5" fill="#111"/>
<g font-family="Liberation Serif, serif" fill="#111" font-size="12" stroke="#111" stroke-width="0.08">
<text transform="translate(361.00,52) scale(0.944,1)" font-size="12" >400</text>
<text transform="translate(361.00,71.3) scale(0.944,1)" font-size="12" >300</text>
<text transform="translate(361.00,89.5) scale(0.944,1)" font-size="12" >200</text>
<text transform="translate(361.00,107.6) scale(0.944,1)" font-size="12" >100</text>
<text transform="translate(356.30,145.4) scale(0.995,1)" font-size="12" >-100</text>
<text transform="translate(356.30,164.2) scale(0.995,1)" font-size="12" >-200</text>
<text transform="translate(356.30,182.6) scale(0.995,1)" font-size="12" >-300</text>
<text transform="translate(264.90,117.6) scale(0.977,1)" font-size="12" >-100</text>
<text transform="translate(322.00,117.2) scale(0.962,1)" font-size="12" >-50</text>
<text transform="translate(398.50,135) scale(0.800,1)" font-size="12" >0</text>
<text transform="translate(447.40,140.7) scale(0.950,1)" font-size="12" >50</text>
<text x="503" y="141.4" font-size="12" text-anchor="start" >100</text>
<text transform="translate(485.00,154.7) scale(0.906,1)" font-size="12" >mV</text>
<text transform="translate(400.00,52) scale(0.928,1)" font-size="12" >nA</text>
<text transform="translate(363.00,215.6) scale(0.933,1)" font-size="12" >400</text>
<text transform="translate(363.00,234.5) scale(0.933,1)" font-size="12" >300</text>
<text transform="translate(363.00,253.4) scale(0.933,1)" font-size="12" >200</text>
<text transform="translate(363.00,271.5) scale(0.933,1)" font-size="12" >100</text>
<text transform="translate(358.50,308.4) scale(0.968,1)" font-size="12" >-100</text>
<text transform="translate(358.50,327.8) scale(0.968,1)" font-size="12" >-200</text>
<text transform="translate(358.50,346.2) scale(0.968,1)" font-size="12" >-300</text>
<text transform="translate(284.20,280) scale(0.936,1)" font-size="12" >-100</text>
<text transform="translate(334.90,280) scale(0.919,1)" font-size="12" >-50</text>
<text transform="translate(398.90,298.1) scale(0.783,1)" font-size="12" >0</text>
<text transform="translate(446.00,300.6) scale(1.017,1)" font-size="12" >50</text>
<text transform="translate(498.30,300.9) scale(0.911,1)" font-size="12" >100</text>
<text transform="translate(486.30,317.2) scale(0.911,1)" font-size="12" >mV</text>
<text transform="translate(400.60,210.2) scale(0.915,1)" font-size="12" >nA</text>
</g>
</svg></body></html>
